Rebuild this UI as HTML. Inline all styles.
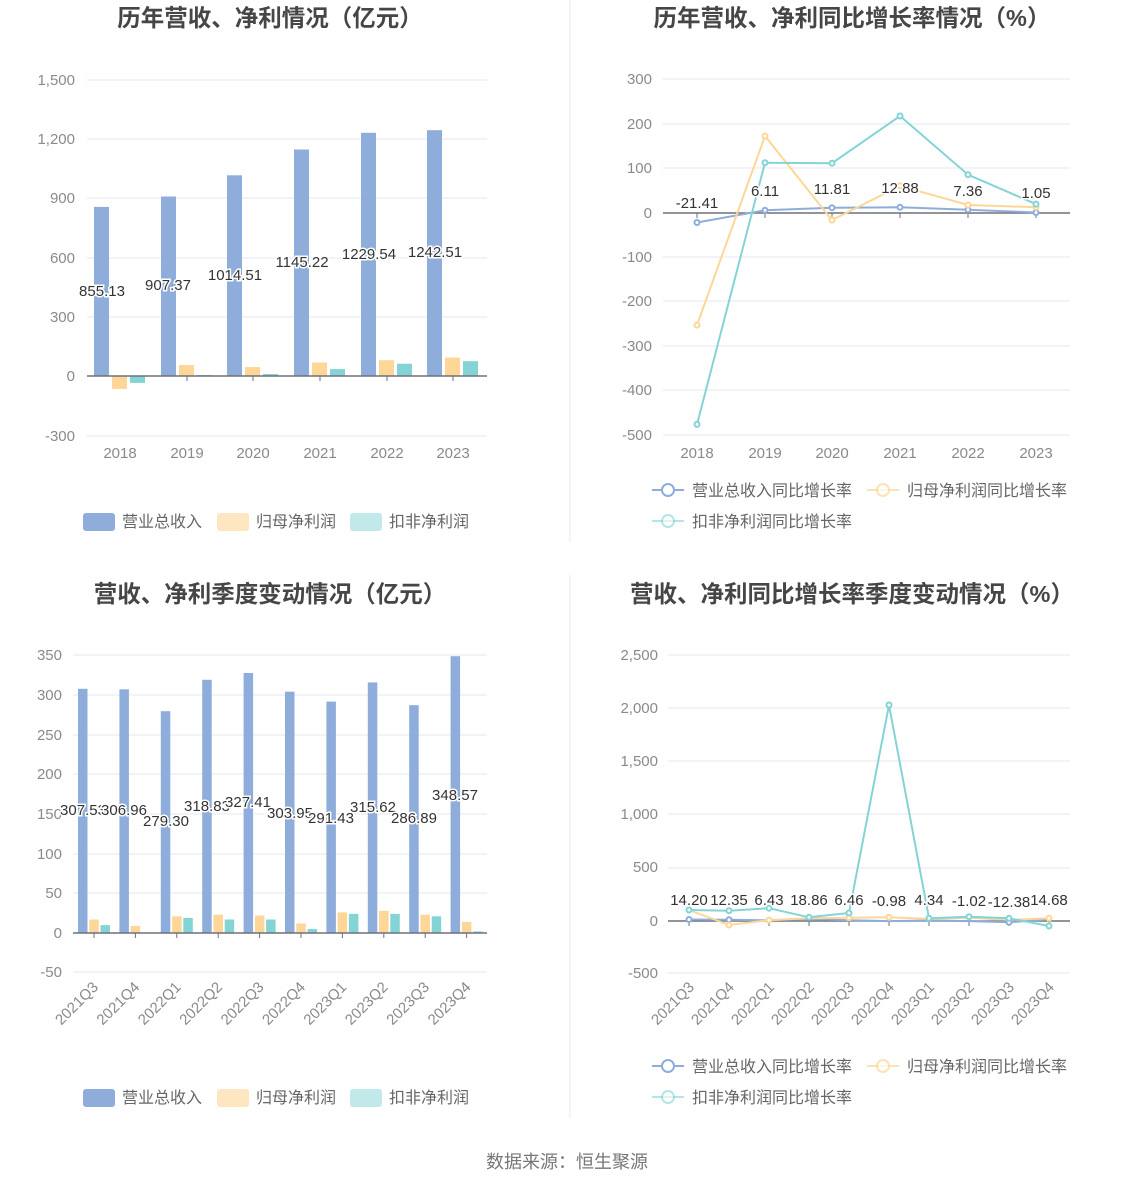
<!DOCTYPE html>
<html><head><meta charset="utf-8"><style>
body{margin:0;background:#fff;}
svg{display:block;font-family:"Liberation Sans","Noto Sans CJK SC",sans-serif;}
.t{font-size:23.5px;font-weight:bold;fill:#464646;text-anchor:middle}
.ax{font-size:15px;fill:#8a8a8a}
.g{stroke:#e3e7f1;stroke-width:1}
.z{stroke:#6e7079;stroke-width:1.5}
.lb{font-size:15px;fill:#333;text-anchor:middle;stroke:#fff;stroke-width:3;paint-order:stroke}
.lg{font-size:16px;fill:#666}
.b{fill:#8eaddb}.y{fill:#fed697}.c{fill:#84d4d6}
</style></head><body>
<svg width="1134" height="1188" viewBox="0 0 1134 1188">
<line x1="570" y1="0" x2="570" y2="542" stroke="#e8e8e8"/>
<line x1="570" y1="575" x2="570" y2="1118" stroke="#e8e8e8"/>
<text class="t" x="270" y="26">历年营收、净利情况（亿元）</text>
<text class="t" x="852" y="26">历年营收、净利同比增长率情况（%）</text>
<text class="t" x="270" y="602">营收、净利季度变动情况（亿元）</text>
<text class="t" x="852" y="602">营收、净利同比增长率季度变动情况（%）</text>

<!-- chart 1 -->
<g class="ax" text-anchor="end">
<text x="75" y="85">1,500</text><text x="75" y="144">1,200</text><text x="75" y="203">900</text><text x="75" y="263">600</text><text x="75" y="322">300</text><text x="75" y="381">0</text><text x="75" y="441">-300</text>
</g>
<g class="g"><line x1="87" y1="80" x2="487" y2="80"/><line x1="87" y1="139" x2="487" y2="139"/><line x1="87" y1="198" x2="487" y2="198"/><line x1="87" y1="258" x2="487" y2="258"/><line x1="87" y1="317" x2="487" y2="317"/><line x1="87" y1="436" x2="487" y2="436"/></g>
<rect class="b" x="94" y="206.9" width="15" height="169.1"/><rect class="y" x="112" y="376" width="15" height="12.9"/><rect class="c" x="130" y="376" width="15" height="6.9"/>
<rect class="b" x="161" y="196.5" width="15" height="179.5"/><rect class="y" x="179" y="365.1" width="15" height="10.9"/><rect class="c" x="197" y="375" width="15" height="1"/>
<rect class="b" x="227" y="175.3" width="15" height="200.7"/><rect class="y" x="245" y="367.1" width="15" height="8.9"/><rect class="c" x="263" y="374" width="15" height="2"/>
<rect class="b" x="294" y="149.5" width="15" height="226.5"/><rect class="y" x="312" y="362.5" width="15" height="13.5"/><rect class="c" x="330" y="369.1" width="15" height="6.9"/>
<rect class="b" x="361" y="132.8" width="15" height="243.2"/><rect class="y" x="379" y="360.2" width="15" height="15.8"/><rect class="c" x="397" y="363.7" width="15" height="12.3"/>
<rect class="b" x="427" y="130.2" width="15" height="245.8"/><rect class="y" x="445" y="357.6" width="15" height="18.4"/><rect class="c" x="463" y="361.2" width="15" height="14.8"/>
<line class="z" x1="87" y1="376" x2="487" y2="376"/>
<g stroke="#6e7079"><line x1="187" y1="376" x2="187" y2="381"/><line x1="253" y1="376" x2="253" y2="381"/><line x1="320" y1="376" x2="320" y2="381"/><line x1="387" y1="376" x2="387" y2="381"/><line x1="453" y1="376" x2="453" y2="381"/></g>
<g class="lb"><text x="102" y="296">855.13</text><text x="168" y="290">907.37</text><text x="235" y="280">1014.51</text><text x="302" y="267">1145.22</text><text x="369" y="259">1229.54</text><text x="435" y="257">1242.51</text></g>
<g class="ax" text-anchor="middle"><text x="120" y="458">2018</text><text x="187" y="458">2019</text><text x="253" y="458">2020</text><text x="320" y="458">2021</text><text x="387" y="458">2022</text><text x="453" y="458">2023</text></g>
<rect class="b" x="83" y="513" width="32" height="18" rx="3"/><text class="lg" x="122" y="527">营业总收入</text>
<rect class="y" x="217" y="513" width="32" height="18" rx="3" opacity=".6"/><text class="lg" x="256" y="527">归母净利润</text>
<rect class="c" x="350" y="513" width="32" height="18" rx="3" opacity=".5"/><text class="lg" x="389" y="527">扣非净利润</text>

<!-- chart 2 -->
<g class="ax" text-anchor="end">
<text x="652" y="84">300</text><text x="652" y="129">200</text><text x="652" y="173">100</text><text x="652" y="218">0</text><text x="652" y="262">-100</text><text x="652" y="306">-200</text><text x="652" y="351">-300</text><text x="652" y="395">-400</text><text x="652" y="440">-500</text>
</g>
<g class="g"><line x1="663" y1="79" x2="1070" y2="79"/><line x1="663" y1="124" x2="1070" y2="124"/><line x1="663" y1="168" x2="1070" y2="168"/><line x1="663" y1="257" x2="1070" y2="257"/><line x1="663" y1="301" x2="1070" y2="301"/><line x1="663" y1="346" x2="1070" y2="346"/><line x1="663" y1="390" x2="1070" y2="390"/><line x1="663" y1="435" x2="1070" y2="435"/></g>
<line class="z" x1="663" y1="213" x2="1070" y2="213"/>
<g stroke="#6e7079"><line x1="697" y1="213" x2="697" y2="218"/><line x1="765" y1="213" x2="765" y2="218"/><line x1="832" y1="213" x2="832" y2="218"/><line x1="900" y1="213" x2="900" y2="218"/><line x1="968" y1="213" x2="968" y2="218"/><line x1="1036" y1="213" x2="1036" y2="218"/></g>
<g fill="#fff" stroke-width="2">
<polyline fill="none" stroke="#8eaddb" points="697,222.5 765,210.3 832,207.7 900,207.3 968,209.7 1036,212.5"/>
<polyline fill="none" stroke="#fed697" points="697,325.1 765,136 832,220.1 900,185.9 968,205 1036,207.2"/>
<polyline fill="none" stroke="#84d4d6" points="697,424.4 765,162.7 832,163.2 900,116 968,174.7 1036,204.1"/>
<g stroke="#8eaddb"><circle cx="697" cy="222.5" r="2.5"/><circle cx="765" cy="210.3" r="2.5"/><circle cx="832" cy="207.7" r="2.5"/><circle cx="900" cy="207.3" r="2.5"/><circle cx="968" cy="209.7" r="2.5"/><circle cx="1036" cy="212.5" r="2.5"/></g>
<g stroke="#fed697"><circle cx="697" cy="325.1" r="2.5"/><circle cx="765" cy="136" r="2.5"/><circle cx="832" cy="220.1" r="2.5"/><circle cx="900" cy="185.9" r="2.5"/><circle cx="968" cy="205" r="2.5"/><circle cx="1036" cy="207.2" r="2.5"/></g>
<g stroke="#84d4d6"><circle cx="697" cy="424.4" r="2.5"/><circle cx="765" cy="162.7" r="2.5"/><circle cx="832" cy="163.2" r="2.5"/><circle cx="900" cy="116" r="2.5"/><circle cx="968" cy="174.7" r="2.5"/><circle cx="1036" cy="204.1" r="2.5"/></g>
</g>
<g class="lb"><text x="697" y="208">-21.41</text><text x="765" y="196">6.11</text><text x="832" y="194">11.81</text><text x="900" y="193">12.88</text><text x="968" y="196">7.36</text><text x="1036" y="198">1.05</text></g>
<g class="ax" text-anchor="middle"><text x="697" y="458">2018</text><text x="765" y="458">2019</text><text x="832" y="458">2020</text><text x="900" y="458">2021</text><text x="968" y="458">2022</text><text x="1036" y="458">2023</text></g>
<g fill="#fff" stroke-width="2">
<line x1="652" y1="490" x2="684" y2="490" stroke="#8eaddb"/><circle cx="668" cy="490" r="6" stroke="#8eaddb"/>
<line x1="867" y1="490" x2="899" y2="490" stroke="#fed697" opacity=".7"/><circle cx="883" cy="490" r="6" stroke="#fed697" opacity=".7"/>
<line x1="652" y1="521" x2="684" y2="521" stroke="#84d4d6" opacity=".6"/><circle cx="668" cy="521" r="6" stroke="#84d4d6" opacity=".6"/>
</g>
<text class="lg" x="692" y="496">营业总收入同比增长率</text><text class="lg" x="907" y="496">归母净利润同比增长率</text><text class="lg" x="692" y="527">扣非净利润同比增长率</text>

<!-- chart 3 -->
<g class="ax" text-anchor="end">
<text x="62" y="660">350</text><text x="62" y="700">300</text><text x="62" y="740">250</text><text x="62" y="779">200</text><text x="62" y="819">150</text><text x="62" y="859">100</text><text x="62" y="898">50</text><text x="62" y="938">0</text><text x="62" y="977">-50</text>
</g>
<g class="g"><line x1="73" y1="655" x2="487" y2="655"/><line x1="73" y1="695" x2="487" y2="695"/><line x1="73" y1="735" x2="487" y2="735"/><line x1="73" y1="774" x2="487" y2="774"/><line x1="73" y1="814" x2="487" y2="814"/><line x1="73" y1="854" x2="487" y2="854"/><line x1="73" y1="893" x2="487" y2="893"/><line x1="73" y1="972" x2="487" y2="972"/></g>
<rect class="b" x="78" y="688.8" width="9.5" height="244.2"/><rect class="y" x="89.3" y="919.5" width="9.5" height="13.5"/><rect class="c" x="100.5" y="925.1" width="9.5" height="7.9"/>
<rect class="b" x="119.4" y="689.3" width="9.5" height="243.7"/><rect class="y" x="130.7" y="925.9" width="9.5" height="7.1"/><rect class="c" x="141.9" y="932.6" width="9.5" height="0.4"/>
<rect class="b" x="160.8" y="711.2" width="9.5" height="221.8"/><rect class="y" x="172.1" y="916.3" width="9.5" height="16.7"/><rect class="c" x="183.3" y="917.9" width="9.5" height="15.1"/>
<rect class="b" x="202.2" y="679.8" width="9.5" height="253.2"/><rect class="y" x="213.5" y="914.7" width="9.5" height="18.3"/><rect class="c" x="224.7" y="919.5" width="9.5" height="13.5"/>
<rect class="b" x="243.6" y="673" width="9.5" height="260"/><rect class="y" x="254.9" y="915.5" width="9.5" height="17.5"/><rect class="c" x="266.1" y="919.5" width="9.5" height="13.5"/>
<rect class="b" x="285" y="691.7" width="9.5" height="241.3"/><rect class="y" x="296.3" y="923.5" width="9.5" height="9.5"/><rect class="c" x="307.5" y="929" width="9.5" height="4"/>
<rect class="b" x="326.4" y="701.6" width="9.5" height="231.4"/><rect class="y" x="337.7" y="912.4" width="9.5" height="20.6"/><rect class="c" x="348.9" y="913.9" width="9.5" height="19.1"/>
<rect class="b" x="367.8" y="682.4" width="9.5" height="250.6"/><rect class="y" x="379.1" y="910.8" width="9.5" height="22.2"/><rect class="c" x="390.3" y="913.9" width="9.5" height="19.1"/>
<rect class="b" x="409.2" y="705.2" width="9.5" height="227.8"/><rect class="y" x="420.5" y="914.7" width="9.5" height="18.3"/><rect class="c" x="431.7" y="916.3" width="9.5" height="16.7"/>
<rect class="b" x="450.6" y="656.2" width="9.5" height="276.8"/><rect class="y" x="461.9" y="921.9" width="9.5" height="11.1"/><rect class="c" x="473.1" y="931.4" width="9.5" height="1.6"/>
<line class="z" x1="73" y1="933" x2="487" y2="933"/>
<g stroke="#6e7079"><line x1="94" y1="933" x2="94" y2="938"/><line x1="135.4" y1="933" x2="135.4" y2="938"/><line x1="176.8" y1="933" x2="176.8" y2="938"/><line x1="218.2" y1="933" x2="218.2" y2="938"/><line x1="259.6" y1="933" x2="259.6" y2="938"/><line x1="301" y1="933" x2="301" y2="938"/><line x1="342.4" y1="933" x2="342.4" y2="938"/><line x1="383.8" y1="933" x2="383.8" y2="938"/><line x1="425.2" y1="933" x2="425.2" y2="938"/><line x1="466.6" y1="933" x2="466.6" y2="938"/></g>
<g class="lb"><text x="83" y="815">307.53</text><text x="124" y="815">306.96</text><text x="166" y="826">279.30</text><text x="207" y="811">318.83</text><text x="248" y="807">327.41</text><text x="290" y="818">303.95</text><text x="331" y="823">291.43</text><text x="373" y="812">315.62</text><text x="414" y="823">286.89</text><text x="455" y="800">348.57</text></g>
<g class="ax" text-anchor="end">
<text transform="translate(99,988) rotate(-45)">2021Q3</text><text transform="translate(140.4,988) rotate(-45)">2021Q4</text><text transform="translate(181.8,988) rotate(-45)">2022Q1</text><text transform="translate(223.2,988) rotate(-45)">2022Q2</text><text transform="translate(264.6,988) rotate(-45)">2022Q3</text><text transform="translate(306,988) rotate(-45)">2022Q4</text><text transform="translate(347.4,988) rotate(-45)">2023Q1</text><text transform="translate(388.8,988) rotate(-45)">2023Q2</text><text transform="translate(430.2,988) rotate(-45)">2023Q3</text><text transform="translate(471.6,988) rotate(-45)">2023Q4</text>
</g>
<rect class="b" x="83" y="1089" width="32" height="18" rx="3"/><text class="lg" x="122" y="1103">营业总收入</text>
<rect class="y" x="217" y="1089" width="32" height="18" rx="3" opacity=".6"/><text class="lg" x="256" y="1103">归母净利润</text>
<rect class="c" x="350" y="1089" width="32" height="18" rx="3" opacity=".5"/><text class="lg" x="389" y="1103">扣非净利润</text>

<!-- chart 4 -->
<g class="ax" text-anchor="end">
<text x="658" y="660">2,500</text><text x="658" y="713">2,000</text><text x="658" y="766">1,500</text><text x="658" y="819">1,000</text><text x="658" y="872">500</text><text x="658" y="926">0</text><text x="658" y="978">-500</text>
</g>
<g class="g"><line x1="668" y1="655" x2="1070" y2="655"/><line x1="668" y1="708" x2="1070" y2="708"/><line x1="668" y1="761" x2="1070" y2="761"/><line x1="668" y1="814" x2="1070" y2="814"/><line x1="668" y1="868" x2="1070" y2="868"/><line x1="668" y1="973" x2="1070" y2="973"/></g>
<line class="z" x1="668" y1="921" x2="1070" y2="921"/>
<g stroke="#6e7079"><line x1="689" y1="921" x2="689" y2="926"/><line x1="729" y1="921" x2="729" y2="926"/><line x1="769" y1="921" x2="769" y2="926"/><line x1="809" y1="921" x2="809" y2="926"/><line x1="849" y1="921" x2="849" y2="926"/><line x1="889" y1="921" x2="889" y2="926"/><line x1="929" y1="921" x2="929" y2="926"/><line x1="969" y1="921" x2="969" y2="926"/><line x1="1009" y1="921" x2="1009" y2="926"/><line x1="1049" y1="921" x2="1049" y2="926"/></g>
<g fill="#fff" stroke-width="2">
<polyline fill="none" stroke="#8eaddb" points="689,919.5 729,919.7 769,920.3 809,919 849,920.3 889,921.1 929,920.5 969,921.1 1009,922.3 1049,919.4"/>
<polyline fill="none" stroke="#fed697" points="689,910 729,925 769,920.1 809,918.3 849,917.8 889,917.3 929,918.9 969,917.8 1009,919.9 1049,918.3"/>
<polyline fill="none" stroke="#84d4d6" points="689,910 729,910.7 769,908.2 809,917.3 849,913 889,705 929,918.3 969,916.7 1009,918.3 1049,926"/>
<g stroke="#8eaddb"><circle cx="689" cy="919.5" r="2.5"/><circle cx="729" cy="919.7" r="2.5"/><circle cx="1009" cy="922.3" r="2.5"/></g>
<g stroke="#fed697"><circle cx="729" cy="925" r="2.5"/><circle cx="769" cy="920.1" r="2.5"/><circle cx="849" cy="917.8" r="2.5"/><circle cx="889" cy="917.3" r="2.5"/><circle cx="1049" cy="918.3" r="2.5"/></g>
<g stroke="#84d4d6"><circle cx="689" cy="910" r="2.5"/><circle cx="729" cy="910.7" r="2.5"/><circle cx="769" cy="908.2" r="2.5"/><circle cx="809" cy="917.3" r="2.5"/><circle cx="849" cy="913" r="2.5"/><circle cx="889" cy="705" r="2.5"/><circle cx="929" cy="918.3" r="2.5"/><circle cx="969" cy="916.7" r="2.5"/><circle cx="1009" cy="918.3" r="2.5"/><circle cx="1049" cy="926" r="2.5"/></g>
</g>
<g class="lb"><text x="689" y="905">14.20</text><text x="729" y="905">12.35</text><text x="769" y="905">6.43</text><text x="809" y="905">18.86</text><text x="849" y="905">6.46</text><text x="889" y="906">-0.98</text><text x="929" y="905">4.34</text><text x="969" y="906">-1.02</text><text x="1009" y="907">-12.38</text><text x="1049" y="905">14.68</text></g>
<g class="ax" text-anchor="end">
<text transform="translate(695,988) rotate(-45)">2021Q3</text><text transform="translate(735,988) rotate(-45)">2021Q4</text><text transform="translate(775,988) rotate(-45)">2022Q1</text><text transform="translate(815,988) rotate(-45)">2022Q2</text><text transform="translate(855,988) rotate(-45)">2022Q3</text><text transform="translate(895,988) rotate(-45)">2022Q4</text><text transform="translate(935,988) rotate(-45)">2023Q1</text><text transform="translate(975,988) rotate(-45)">2023Q2</text><text transform="translate(1015,988) rotate(-45)">2023Q3</text><text transform="translate(1055,988) rotate(-45)">2023Q4</text>
</g>
<g fill="#fff" stroke-width="2">
<line x1="652" y1="1066" x2="684" y2="1066" stroke="#8eaddb"/><circle cx="668" cy="1066" r="6" stroke="#8eaddb"/>
<line x1="867" y1="1066" x2="899" y2="1066" stroke="#fed697" opacity=".7"/><circle cx="883" cy="1066" r="6" stroke="#fed697" opacity=".7"/>
<line x1="652" y1="1097" x2="684" y2="1097" stroke="#84d4d6" opacity=".6"/><circle cx="668" cy="1097" r="6" stroke="#84d4d6" opacity=".6"/>
</g>
<text class="lg" x="692" y="1072">营业总收入同比增长率</text><text class="lg" x="907" y="1072">归母净利润同比增长率</text><text class="lg" x="692" y="1103">扣非净利润同比增长率</text>

<text x="567" y="1168" text-anchor="middle" font-size="18" fill="#777">数据来源：恒生聚源</text>
</svg>
</body></html>
